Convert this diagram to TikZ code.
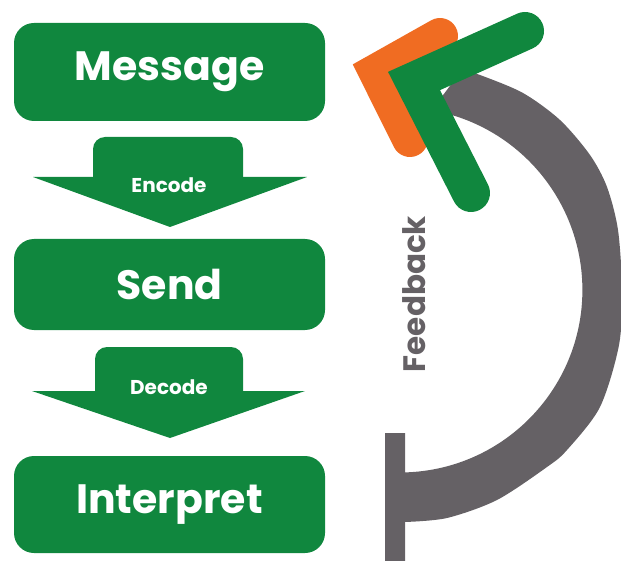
\documentclass[tikz,border=0pt]{standalone}
\usepackage{fontspec}
\setmainfont{Poppins}
\definecolor{leafgreen}{RGB}{16,135,62}
\definecolor{flame}{RGB}{240,108,34}
\definecolor{ash}{RGB}{101,97,101}
\begin{document}
\begin{tikzpicture}[x=1pt,y=-1pt,
  stage/.style={fill=leafgreen, rounded corners=20pt, minimum width=311pt,
    text=white, inner sep=0pt, font=\bfseries\fontsize{41}{41}\selectfont},
  flowlabel/.style={text=white, inner sep=0pt, font=\bfseries\fontsize{20}{20}\selectfont},
  chevron/.style={line cap=round, line join=miter},
]
\useasboundingbox (0,0) rectangle (621,561);

% feedback loop band with its foot
\fill[ash] plot[smooth] coordinates {(462,70) (480,75) (523,93) (560,120) (590,155)
    (607,187) (618,230) (622,290) (619,345) (600,407) (567,450) (547,467)
    (497,500) (447,518) (405,522)}
  -- (405,561) -- (385,561) -- (385,433) -- (405,433) -- (405,472.4)
  arc[start angle=88.4, end angle=-80, radius=182.5] -- cycle;
\node[rotate=90, text=ash, inner sep=0pt, font=\bfseries\fontsize{31}{31}\selectfont]
  (fb) at (414,294) {Feedback};

% return arrowheads
\draw[flame, line width=36pt, chevron] (440,36) -- (376.5,71.7) -- (410,139);
\draw[leafgreen, line width=38pt, chevron] (525,31) -- (414,81) -- (471,193);

% process stages
\node[stage, minimum height=98pt] (msg) at (169.5,72) {Message};
\node[stage, minimum height=91pt] (send) at (169.5,284.5) {Send};
\node[stage, minimum height=97pt] (interp) at (169.5,504.5) {Interpret};

% block arrows between stages
\fill[leafgreen, rounded corners=12pt] (93,137) rectangle (243,195);
\fill[leafgreen] (33,177) -- (307,177) -- (170,227) -- cycle;
\node[flowlabel] (enc) at (169,185) {Encode};

\fill[leafgreen, rounded corners=12pt] (95,347) rectangle (243,405);
\fill[leafgreen] (32,391) -- (305,391) -- (170,438) -- cycle;
\node[flowlabel] (dec) at (169,387) {Decode};
\end{tikzpicture}
\end{document}
